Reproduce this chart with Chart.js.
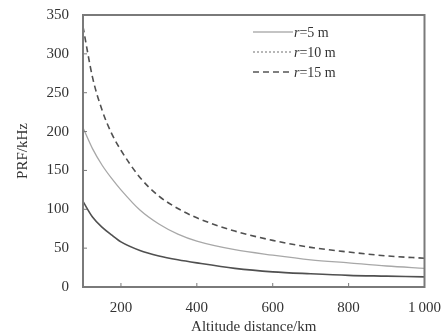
<!DOCTYPE html>
<html>
<head>
<meta charset="utf-8">
<script src="https://cdn.jsdelivr.net/npm/chart.js@4/dist/chart.umd.min.js"></script>
<style>
  html, body { margin: 0; padding: 0; background: #fff; }
  #wrap { width: 445px; height: 336px; }
</style>
</head>
<body>
<div id="wrap"><canvas id="c"></canvas></div>
<script>
// 고도 거리(km)
var altitude = [100, 125, 150, 175, 200, 250, 300, 350, 400, 500, 600, 700, 800, 900, 1000];
// PRF (kHz), 그림에서 읽은 값
var prfR5  = [110, 90, 77, 67, 58, 47, 40, 35, 31, 24, 19.5, 17, 15, 14, 13];
var prfR10 = [205, 178, 157, 140, 125, 99, 81, 68, 59, 48, 41, 35, 31, 27, 24];
var prfR15 = [335, 270, 228, 198, 176, 141, 117, 101, 89, 72, 60, 51, 45, 40, 37];
var seriesLabels = ['r=5 m', 'r=10 m', 'r=15 m'];
var xTicks = [200, 400, 600, 800, 1000];
var xTickLabels = ['200', '400', '600', '800', '1\u2009000'];
var yTicks = [0, 50, 100, 150, 200, 250, 300, 350];

var FONT = 'Liberation Serif';
var AXIS = '#7a7a7a';

function toPoints(ys) {
  return altitude.map(function (x, i) { return { x: x, y: ys[i] }; });
}

// 축 안쪽 눈금 + 위/오른쪽 테두리
var frameTicks = {
  id: 'frameTicks',
  afterDraw: function (chart) {
    var ctx = chart.ctx, a = chart.chartArea;
    var sx = chart.scales.x, sy = chart.scales.y;
    ctx.save();
    ctx.strokeStyle = AXIS;
    ctx.lineWidth = 2;
    ctx.strokeRect(a.left, a.top, a.right - a.left, a.bottom - a.top);
    ctx.lineWidth = 1;
    ctx.beginPath();
    xTicks.forEach(function (v) {
      var px = sx.getPixelForValue(v);
      ctx.moveTo(px, a.bottom); ctx.lineTo(px, a.bottom - 4);
    });
    yTicks.forEach(function (v) {
      var py = sy.getPixelForValue(v);
      ctx.moveTo(a.left, py); ctx.lineTo(a.left + 4, py);
    });
    ctx.stroke();
    ctx.restore();
  }
};

// 그림 안쪽 범례
var legendStyles = [
  { color: '#b0b0b0', dash: [], width: 1.5 },
  { color: '#a0a0a0', dash: [2, 2], width: 1.5 },
  { color: '#555555', dash: [6, 4], width: 1.5 }
];
var innerLegend = {
  id: 'innerLegend',
  afterDraw: function (chart) {
    var ctx = chart.ctx;
    ctx.save();
    seriesLabels.forEach(function (lab, i) {
      var y = 32 + i * 20;
      var st = legendStyles[i];
      ctx.strokeStyle = st.color;
      ctx.lineWidth = st.width;
      ctx.setLineDash(st.dash);
      ctx.beginPath();
      ctx.moveTo(253, y); ctx.lineTo(293, y);
      ctx.stroke();
      ctx.setLineDash([]);
      ctx.fillStyle = '#333';
      ctx.textBaseline = 'middle';
      ctx.font = 'italic 14px "' + FONT + '"';
      ctx.fillText('r', 294, y + 1);
      var w = ctx.measureText('r').width;
      ctx.font = '14px "' + FONT + '"';
      ctx.fillText(lab.slice(1), 294 + w, y + 1);
    });
    ctx.restore();
  }
};

new Chart(document.getElementById('c'), {
  type: 'line',
  data: {
    datasets: [
      { label: seriesLabels[0], data: toPoints(prfR5), borderColor: '#505050', borderWidth: 1.6 },
      { label: seriesLabels[1], data: toPoints(prfR10), borderColor: '#a8a8a8', borderWidth: 1.3 },
      { label: seriesLabels[2], data: toPoints(prfR15), borderColor: '#505050', borderWidth: 1.6, borderDash: [6, 4] }
    ]
  },
  options: {
    responsive: true,
    maintainAspectRatio: false,
    animation: false,
    layout: { padding: { top: 15, right: 20 } },
    elements: {
      point: { radius: 0 },
      line: { cubicInterpolationMode: 'monotone', fill: false }
    },
    plugins: { legend: { display: false }, tooltip: { enabled: false } },
    scales: {
      x: {
        type: 'linear',
        min: 100,
        max: 1000,
        afterBuildTicks: function (s) { s.ticks = xTicks.map(function (v) { return { value: v }; }); },
        afterFit: function (s) { s.height = 49; },
        grid: { display: false },
        border: { display: false },
        ticks: {
          color: '#333', font: { family: FONT, size: 15 }, padding: 4, maxRotation: 0,
          callback: function (v) { var i = xTicks.indexOf(v); return i >= 0 ? xTickLabels[i] : ''; }
        },
        title: { display: true, text: 'Altitude distance/km', color: '#333', font: { family: FONT, size: 15 }, padding: { top: 8, bottom: 0 } }
      },
      y: {
        type: 'linear',
        min: 0,
        max: 350,
        afterBuildTicks: function (s) { s.ticks = yTicks.map(function (v) { return { value: v }; }); },
        afterFit: function (s) { s.width = 83; },
        grid: { display: false },
        border: { display: false },
        ticks: { color: '#333', font: { family: FONT, size: 15 }, padding: 6 },
        title: { display: true, text: 'PRF/kHz', color: '#333', font: { family: FONT, size: 15 }, padding: { top: 14, bottom: 0 } }
      }
    }
  },
  plugins: [frameTicks, innerLegend]
});
</script>
</body>
</html>
